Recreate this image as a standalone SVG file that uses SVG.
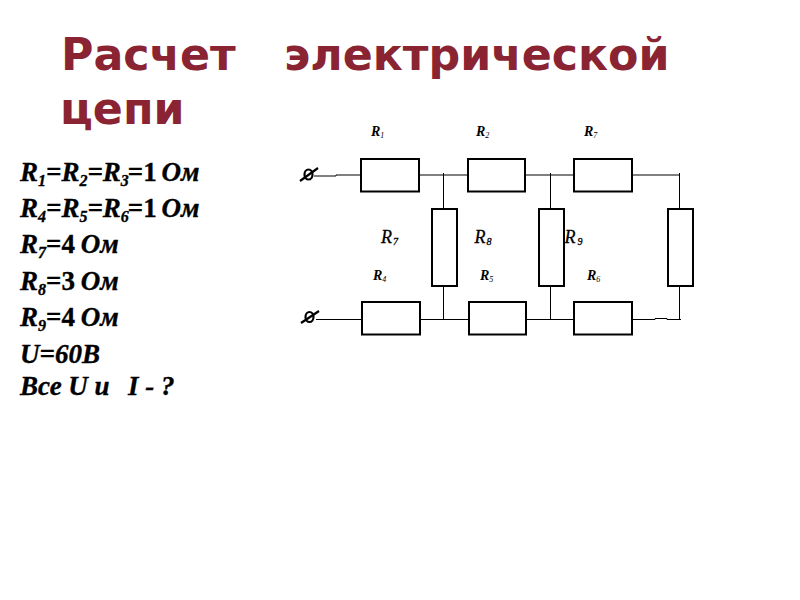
<svg xmlns="http://www.w3.org/2000/svg" width="800" height="600" viewBox="0 0 800 600">
<style>
.t{font-family:"DejaVu Sans",sans-serif;font-weight:700;font-size:44.300px;fill:#8a2432}
.b{font-family:"Liberation Serif",serif;font-weight:700;font-size:27px;fill:#000;stroke:#000;stroke-width:.35}
.bi{font-style:italic}
.s{font-size:16px}
.r{fill:#fff;stroke:#000;stroke-width:2}
.w{fill:none;stroke:#000;stroke-width:1}
.l{font-family:"Liberation Serif",serif;font-style:italic;font-weight:700;fill:#000;font-size:14px}
.l2{font-family:"Liberation Serif",serif;font-style:italic;fill:#000;stroke:#000;stroke-width:.3;font-size:18px}
.sub{font-size:8px;font-weight:400}
.sub2{font-size:10px}
.term{fill:none;stroke:#000;stroke-width:2.200}
</style>
<g id="title">
<text class="t" x="61" y="70">Расчет</text>
<text class="t" x="284" y="70">электрической</text>
<text class="t" x="60" y="124">цепи</text>
</g>
<g id="given" class="b bi">
<text x="20" y="181">R<tspan class="s" dy="5">1</tspan><tspan dy="-5">=R</tspan><tspan class="s" dy="5">2</tspan><tspan dy="-5">=R</tspan><tspan class="s" dy="5">3</tspan><tspan dy="-5" dx="-1" font-style="normal">=1 </tspan><tspan dx="-2">Ом</tspan></text>
<text x="20" y="217">R<tspan class="s" dy="5">4</tspan><tspan dy="-5">=R</tspan><tspan class="s" dy="5">5</tspan><tspan dy="-5">=R</tspan><tspan class="s" dy="5">6</tspan><tspan dy="-5" dx="-1" font-style="normal">=1 </tspan><tspan dx="-2">Ом</tspan></text>
<text x="20" y="253">R<tspan class="s" dy="5">7</tspan><tspan dy="-5" font-style="normal">=4 </tspan><tspan dx="-1">Ом</tspan></text>
<text x="20" y="290">R<tspan class="s" dy="5">8</tspan><tspan dy="-5" font-style="normal">=3 </tspan><tspan dx="-1">Ом</tspan></text>
<text x="20" y="326">R<tspan class="s" dy="5">9</tspan><tspan dy="-5" font-style="normal">=4 </tspan><tspan dx="-1">Ом</tspan></text>
<text x="20" y="363">U=60В</text>
<text x="20" y="395">Все U и<tspan x="128">I - ?</tspan></text>
</g>
<g id="connectors">
<path class="w" d="M314 176H336V175H361M419 175H468M443.500 173V209M443.500 286V319.500M421 319.500H469M526 175H574M550.500 173V209M550.500 286V319.500M526 319.500H574M632 175H679.500M679.500 173V209M679.500 286V319.500M633 319.500H655V318.500H667V319.500H681M316 319.500H362"/>
</g>
<g id="R1"><rect class="r" x="361" y="159" width="58" height="32.500"/><text class="l" x="371" y="136">R<tspan class="sub" dy="2">1</tspan></text></g>
<g id="R2"><rect class="r" x="468" y="159" width="57" height="32.500"/><text class="l" x="476" y="136">R<tspan class="sub" dy="2">2</tspan></text></g>
<g id="R3"><rect class="r" x="574" y="159" width="58" height="32.500"/><text class="l" x="584" y="136">R<tspan class="sub" dy="2">7</tspan></text></g>
<g id="R4"><rect class="r" x="362" y="302" width="58" height="32.500"/><text class="l" x="373" y="280">R<tspan class="sub" dy="2">4</tspan></text></g>
<g id="R5"><rect class="r" x="469" y="302" width="57" height="32.500"/><text class="l" x="480" y="280">R<tspan class="sub" dy="2">5</tspan></text></g>
<g id="R6"><rect class="r" x="574" y="302" width="58" height="32.500"/><text class="l" x="587" y="280">R<tspan class="sub" dy="2">6</tspan></text></g>
<g id="R7"><rect class="r" x="432" y="209" width="25" height="77"/><text class="l2" x="381" y="243">R<tspan class="sub2" dy="2" dx="1">7</tspan></text></g>
<g id="R8"><rect class="r" x="539" y="209" width="25" height="77"/><text class="l2" x="474.500" y="243">R<tspan class="sub2" dy="2" dx="1">8</tspan></text></g>
<g id="R9"><rect class="r" x="668" y="209" width="25" height="77"/><text class="l2" x="564.500" y="243">R<tspan class="sub2" dy="2" dx="2">9</tspan></text></g>
<g id="terminal-top"><ellipse class="term" cx="308.500" cy="174.500" rx="4" ry="5"/><path class="term" d="M300 181L318 168"/></g>
<g id="terminal-bottom"><ellipse class="term" cx="309.500" cy="317" rx="4" ry="5"/><path class="term" d="M301 323L319 311"/></g>
</svg>
